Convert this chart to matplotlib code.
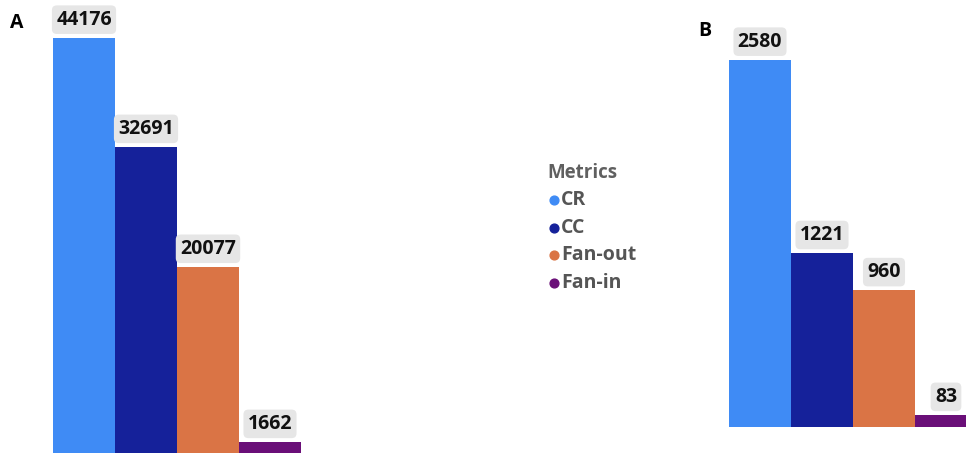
import matplotlib.pyplot as plt

plt.rcParams['font.family'] = ['Open Sans', 'DejaVu Sans']

metrics = ['CR', 'CC', 'Fan-out', 'Fan-in']
colors = ['#3f8bf5', '#15219a', '#da7445', '#6a0f78']
values_a = [44176, 32691, 20077, 1662]
values_b = [2580, 1221, 960, 83]

W, H = 966, 453
fig = plt.figure(figsize=(W / 100, H / 100), dpi=100)


def px_axes(left, right, top, base):
    # axes box given in pixel coordinates (top-left origin)
    return fig.add_axes([left / W, (H - base) / H, (right - left) / W, (base - top) / H])


def draw_panel(ax, values):
    x = range(len(values))
    bars = ax.bar(x, values, width=1.0, color=colors)
    ax.set_xlim(-0.5, len(values) - 0.5)
    ax.set_ylim(0, max(values))
    ax.bar_label(bars, labels=[str(v) for v in values], padding=6,
                 fontsize=14, fontweight='bold', color='#111111',
                 bbox=dict(boxstyle='round,pad=0.22,rounding_size=0.25',
                           fc='#e6e6e6', ec='none'))
    ax.axis('off')


ax_a = px_axes(53, 301, 38, 458)
draw_panel(ax_a, values_a)

ax_b = px_axes(729, 977, 60, 427)
draw_panel(ax_b, values_b)

# panel letters and legend on an overlay in pixel units
ov = fig.add_axes([0, 0, 1, 1])
ov.set_xlim(0, W)
ov.set_ylim(H, 0)
ov.axis('off')
ov.text(10, 23, 'A', fontsize=14, fontweight='bold', va='center')
ov.text(698, 31, 'B', fontsize=14, fontweight='bold', va='center')

ov.text(547, 173, 'Metrics', fontsize=13.5, fontweight='bold',
        color='#606060', va='center')
for i, (m, c) in enumerate(zip(metrics, colors)):
    y = 200 + i * 27.7
    ov.scatter([554], [y], s=40, color=c, zorder=3)
    ov.text(561, y, m, fontsize=14, fontweight='bold',
            color='#555555', va='center')

fig.savefig('out.png', dpi=100)
